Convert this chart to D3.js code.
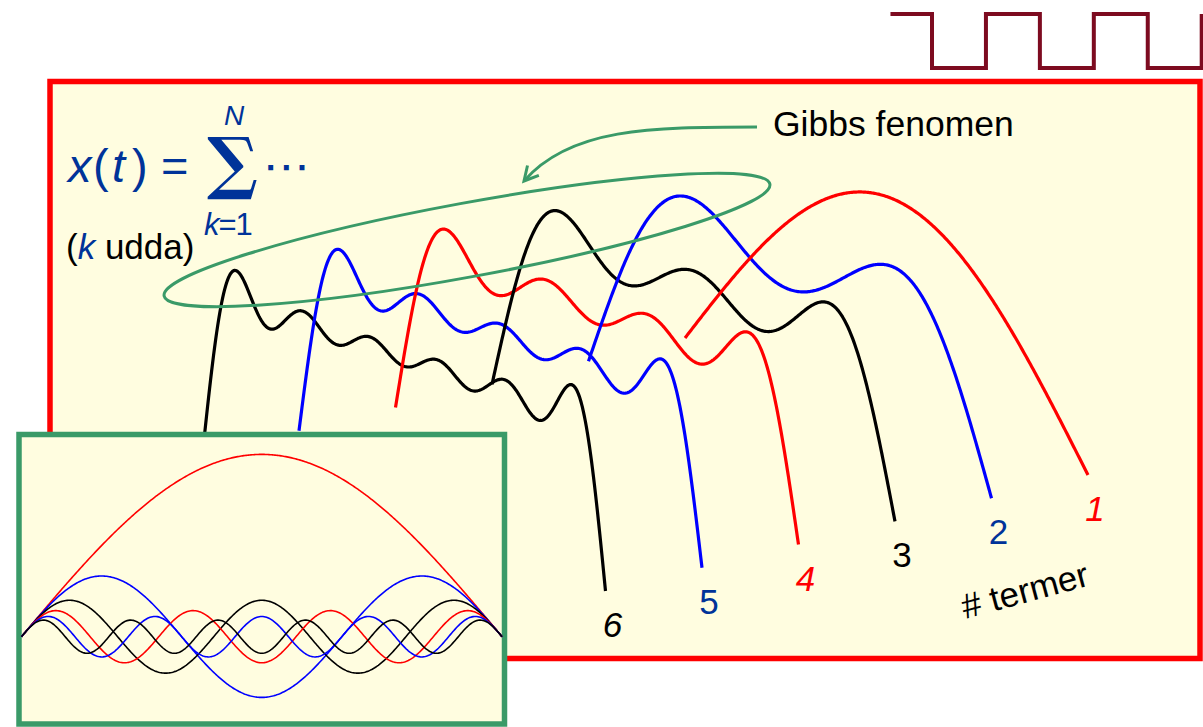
<!DOCTYPE html>
<html>
<head>
<meta charset="utf-8">
<script src="https://cdn.jsdelivr.net/npm/d3@7"></script>
<style>
	body { margin: 0; background: #ffffff; }
	svg { display: block; }
	text { font-family: 'Liberation Sans', Arial, sans-serif; }
</style>
</head>
<body>
<div id="chart"></div>
<script>
// odd harmonics of the square wave and the amplitudes
var harmonics = [1, 3, 5, 7, 9, 11];
var amplitudes = [1.0, 0.333, 0.2, 0.143, 0.111, 0.091];
var seriesColors = ['#ff0000', '#0000ff', '#000000', '#ff0000', '#0000ff', '#000000'];

// partial sums shown in the waterfall: number of terms and their labels
var termCounts = [1, 2, 3, 4, 5, 6];
var termLabels = ['1', '2', '3', '4', '5', '6'];
var labelColors = ['#ff0000', '#003399', '#000000', '#ff0000', '#003399', '#000000'];
var labelItalic = [true, false, false, true, false, true];

// the square wave in the corner (half periods and levels)
var squareTimes = [-0.77, 0, 1, 2, 3, 4, 5];
var squareLevels = [1, 0, 1, 0, 1, 0, 1];

var width = 1203, height = 727;
var bgYellow = '#fffde0';
var green = '#3a9a68';
var navy = '#003399';

var svg = d3.select('#chart').append('svg')
	.attr('width', width)
	.attr('height', height);

svg.append('rect')
	.attr('width', width)
	.attr('height', height)
	.attr('fill', '#ffffff');

/*** helpers ***/
function partialSum(n, t) {
	var s = 0;
	for (var i = 0; i < n; i++) {
		s += amplitudes[i] * Math.sin(harmonics[i] * t);
	}
	return s;
}

var samples = d3.range(0, 401).map(function(i) { return Math.PI * i / 400; });

// places a single glyph so that its inked box fills the given box
var measureCtx = document.createElement('canvas').getContext('2d');
function fitGlyph(glyph, family, weight, box) {
	measureCtx.font = weight + ' 100px ' + family;
	var m = measureCtx.measureText(glyph);
	var inkH = m.actualBoundingBoxAscent + m.actualBoundingBoxDescent;
	var inkW = m.actualBoundingBoxLeft + m.actualBoundingBoxRight;
	var size = 100 * box.h / inkH;
	var k = size / 100;
	var sx = box.w / (inkW * k);
	var baseline = box.y + box.h - m.actualBoundingBoxDescent * k;
	svg.append('text')
		.attr('transform', 'translate(' + box.x + ',' + baseline + ') scale(' + sx + ',1)')
		.attr('x', m.actualBoundingBoxLeft * k)
		.attr('y', 0)
		.attr('font-size', size)
		.attr('font-weight', weight)
		.style('font-family', family)
		.attr('fill', navy)
		.text(glyph);
}

/*** square wave ***/
var sqX = d3.scaleLinear().domain([0, 5]).range([932, 1201.7]);
var sqY = d3.scaleLinear().domain([0, 1]).range([68, 14]);
var sqLine = d3.line()
	.x(function(d, i) { return sqX(squareTimes[i]); })
	.y(function(d) { return sqY(d); })
	.curve(d3.curveStepAfter);

svg.append('path')
	.attr('d', sqLine(squareLevels))
	.attr('fill', 'none')
	.attr('stroke', '#7d0b20')
	.attr('stroke-width', 4);

/*** main panel ***/
svg.append('rect')
	.attr('x', 50)
	.attr('y', 81.5)
	.attr('width', 1150)
	.attr('height', 577)
	.attr('fill', bgYellow)
	.attr('stroke', '#ff0000')
	.attr('stroke-width', 5.5);

// oblique projection: t runs to the right and slightly down, terms step back-left
var tX = d3.scaleLinear().domain([0, Math.PI]).range([0, 403]);
var tY = d3.scaleLinear().domain([0, Math.PI]).range([0, 137]);
var nX = d3.scaleLinear().domain([1, 6]).range([685, 202.5]);
var nY = d3.scaleLinear().domain([1, 6]).range([338, 454]);
var vY = d3.scaleLinear().domain([0, 1]).range([0, -210]);

function project(n, t, v) {
	return [nX(n) + tX(t), nY(n) + tY(t) + vY(v)];
}

var curves = svg.append('g').attr('class', 'waterfall');

termCounts.slice().reverse().forEach(function(n) {
	var line = d3.line()
		.x(function(t) { return project(n, t, partialSum(n, t))[0]; })
		.y(function(t) { return project(n, t, partialSum(n, t))[1]; });
	curves.append('path')
		.attr('d', line(samples))
		.attr('fill', 'none')
		.attr('stroke', seriesColors[n - 1])
		.attr('stroke-width', 3.2)
		.attr('stroke-linejoin', 'round');
});

// labels at the end of every curve
curves.selectAll('text.term')
	.data(termCounts)
	.enter()
	.append('text')
	.attr('class', 'term')
	.attr('x', function(n) { return project(n, Math.PI, 0)[0] + 7; })
	.attr('y', function(n) { return project(n, Math.PI, 0)[1] + 46; })
	.attr('text-anchor', 'middle')
	.attr('font-size', 35)
	.attr('font-style', function(n, i) { return labelItalic[i] ? 'italic' : 'normal'; })
	.attr('fill', function(n, i) { return labelColors[i]; })
	.text(function(n, i) { return termLabels[i]; });

svg.append('text')
	.attr('transform', 'translate(965,619) rotate(-15)')
	.attr('font-size', 35)
	.attr('fill', '#000')
	.text('# termer');

/*** Gibbs annotation ***/
svg.append('ellipse')
	.attr('transform', 'translate(467,240) rotate(-10.45)')
	.attr('rx', 308)
	.attr('ry', 37)
	.attr('fill', 'none')
	.attr('stroke', green)
	.attr('stroke-width', 3);

svg.append('defs').append('marker')
	.attr('id', 'openArrow')
	.attr('markerUnits', 'userSpaceOnUse')
	.attr('markerWidth', 30)
	.attr('markerHeight', 30)
	.attr('refX', 0)
	.attr('refY', 0)
	.attr('viewBox', '-20 -15 30 30')
	.attr('orient', 'auto')
	.append('path')
	.attr('d', 'M-14,-7.5 L0,0 L-14,7.5')
	.attr('fill', 'none')
	.attr('stroke', green)
	.attr('stroke-width', 3);

svg.append('path')
	.attr('d', 'M757,127 C650,127 570,128 524,181')
	.attr('fill', 'none')
	.attr('stroke', green)
	.attr('stroke-width', 3)
	.attr('marker-end', 'url(#openArrow)');

svg.append('text')
	.attr('x', 773)
	.attr('y', 136)
	.attr('font-size', 35.5)
	.attr('fill', '#000')
	.text('Gibbs fenomen');

/*** formula ***/
var formula = svg.append('text')
	.attr('y', 182)
	.attr('font-size', 47)
	.attr('fill', navy);
formula.append('tspan').attr('x', 68).attr('font-style', 'italic').text('x');
formula.append('tspan').attr('x', 93).text('(');
formula.append('tspan').attr('x', 112).attr('font-style', 'italic').text('t');
formula.append('tspan').attr('x', 132).text(')');
formula.append('tspan').attr('x', 161).text('=');

fitGlyph('\u2211', "'DejaVu Serif'", 'bold', { x: 207, y: 137, w: 50, h: 63 });
fitGlyph('\u22EF', "'DejaVu Sans'", 'normal', { x: 268, y: 165, w: 37, h: 6 });

svg.append('text')
	.attr('x', 234)
	.attr('y', 125)
	.attr('text-anchor', 'middle')
	.attr('font-size', 28)
	.attr('font-style', 'italic')
	.attr('fill', navy)
	.text('N');

var lower = svg.append('text')
	.attr('x', 204)
	.attr('y', 235)
	.attr('font-size', 31)
	.attr('letter-spacing', -1)
	.attr('fill', navy);
lower.append('tspan').attr('font-style', 'italic').text('k');
lower.append('tspan').text('=1');

var odd = svg.append('text')
	.attr('x', 66)
	.attr('y', 259)
	.attr('font-size', 35)
	.attr('fill', '#000');
odd.append('tspan').text('(');
odd.append('tspan').attr('font-style', 'italic').attr('fill', navy).text('k');
odd.append('tspan').text(' udda)');

/*** inset with the individual harmonics ***/
svg.append('rect')
	.attr('x', 19)
	.attr('y', 434.5)
	.attr('width', 485.5)
	.attr('height', 289.5)
	.attr('fill', bgYellow)
	.attr('stroke', green)
	.attr('stroke-width', 5.5);

var insetX = d3.scaleLinear().domain([0, Math.PI]).range([21.5, 502]);
var insetY = d3.scaleLinear().domain([-1, 1]).range([819, 454.4]);

var inset = svg.append('g').attr('class', 'inset');
harmonics.forEach(function(k, i) {
	var line = d3.line()
		.x(function(t) { return insetX(t); })
		.y(function(t) { return insetY(amplitudes[i] * Math.sin(k * t)); });
	inset.append('path')
		.attr('d', line(samples))
		.attr('fill', 'none')
		.attr('stroke', seriesColors[i])
		.attr('stroke-width', 1.6);
});
</script>
</body>
</html>
